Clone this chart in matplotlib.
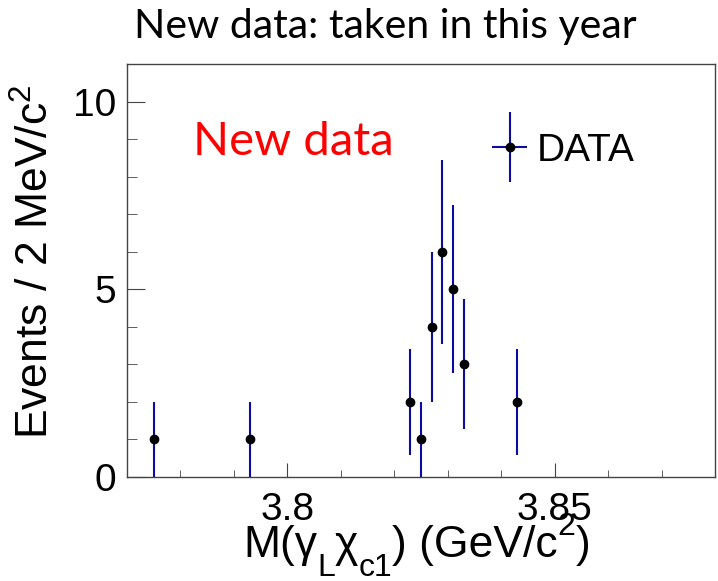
import numpy as np
import matplotlib
matplotlib.use('Agg')
import matplotlib.pyplot as plt
from matplotlib.legend_handler import HandlerErrorbar
from matplotlib.ticker import MultipleLocator

# event counts in 2 MeV bins (bin centres in GeV/c^2)
mass = [3.775, 3.793, 3.823, 3.825, 3.827, 3.829, 3.831, 3.833, 3.843]
counts = [1, 1, 2, 1, 4, 6, 5, 3, 2]
errors = np.sqrt(counts)

# x-axis title pieces: (text, fontsize, baseline shift in px, downward positive)
xtitle = [('M(\u03b3', 32, 0), ('L', 23, 19), ('\u03c7', 32, 0), ('c1', 23, 19),
          (') (GeV/c', 32, 0), ('2', 23, -22), (')', 32, 0)]

plt.rcParams['font.family'] = 'Liberation Sans'
plt.rcParams['mathtext.fontset'] = 'custom'
plt.rcParams['mathtext.rm'] = 'Liberation Sans'
plt.rcParams['mathtext.it'] = 'Liberation Sans'

W, H = 718, 581
fig = plt.figure(figsize=(W / 100, H / 100), dpi=100)
ax = fig.add_axes([0.1769, 0.179, 0.8189, 0.7108])

data = ax.errorbar(mass, counts, yerr=errors, fmt='o', color='black',
                   ecolor='#0c0ca0', elinewidth=1.5, markersize=6,
                   capsize=0, label='DATA')
# legend key shows the horizontal bin width like ROOT does
key = ax.errorbar([np.nan], [np.nan], xerr=1, yerr=1, fmt='o', color='black',
                  ecolor='#0c0ca0', elinewidth=1.5, markersize=6, capsize=0)

ax.set_xlim(3.77, 3.88)
ax.set_ylim(0, 11)

ax.xaxis.set_minor_locator(MultipleLocator(0.01))
ax.yaxis.set_major_locator(MultipleLocator(5))
ax.yaxis.set_minor_locator(MultipleLocator(1))
ax.set_xticks([3.8, 3.85])
ax.set_xticklabels(['3.8', '3.85'])

for s in ax.spines.values():
    s.set_color('#444444')
    s.set_linewidth(1.0)
ax.tick_params(axis='both', which='both', direction='in', color='#444444',
               labelsize=28, top=False, right=False)
ax.tick_params(axis='y', which='major', length=13, pad=8)
ax.tick_params(axis='y', which='minor', length=7)
ax.tick_params(axis='x', which='major', length=10, pad=11)
ax.tick_params(axis='x', which='minor', length=5)

fig.text(36 / W, 1 - 261.5 / H, r'Events / 2 MeV/c$^{2}$', rotation=90,
         ha='center', va='center', fontsize=32)

# x title built piece by piece so the subscripts sit low, ROOT style
renderer = fig.canvas.get_renderer()
x = 243
base = 557
for s, size, shift in xtitle:
    t = fig.text(x / W, 1 - (base + shift) / H, s, fontsize=size,
                 ha='left', va='baseline')
    x += t.get_window_extent(renderer).width

fig.text(385 / W, 1 - 38 / H, 'New data: taken in this year',
         ha='center', va='baseline', fontsize=29.5, family='Lato')
ax.text(0.112, 0.78, 'New data', transform=ax.transAxes, color='red',
        ha='left', va='baseline', fontsize=34, family='Lato')

leg = ax.legend([key], ['DATA'], loc='upper left',
                bbox_to_anchor=(0.605, 0.857), fontsize=28,
                handler_map={type(key): HandlerErrorbar(xerr_size=0.45, yerr_size=0.9)},
                handlelength=0.9, handletextpad=0.25, borderpad=0.25,
                borderaxespad=0, frameon=False)

fig.savefig('out.png', dpi=100)
